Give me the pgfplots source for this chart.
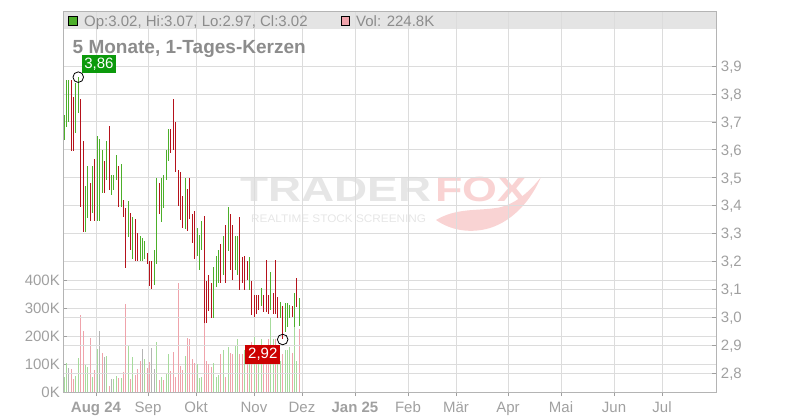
\documentclass[border=0pt]{standalone}
\usepackage{fontspec}
\setmainfont{Liberation Sans}
\usepackage{pgfplots}
\usepackage{pgfplotstable}
\pgfplotsset{compat=1.18}
\definecolor{cup}{HTML}{4CAF2A}
\definecolor{cdn}{HTML}{B5121B}
\definecolor{vup}{HTML}{A6DB9C}
\definecolor{vdn}{HTML}{EFA3AB}
\definecolor{vnt}{HTML}{B4B4B4}
\definecolor{gridc}{HTML}{DCDCDC}
\definecolor{axc}{HTML}{B4B4B4}
\definecolor{txt}{HTML}{A0A0A0}
\definecolor{htxt}{HTML}{8C8C8C}
\definecolor{bandc}{HTML}{E4E4E4}
\definecolor{boxg}{HTML}{0C9A0C}
\definecolor{boxr}{HTML}{CC0000}
\definecolor{wmg}{HTML}{E6E6E6}
\definecolor{wmp}{HTML}{F9D3D3}

% c: 1 = up (green), 2 = down (red)
\pgfplotstableread{
i lo hi c
0 3.635 3.724 1
1 3.683 3.850 1
2 3.700 3.850 1
3 3.597 3.850 2
4 3.597 3.790 2
5 3.660 3.840 1
6 3.730 3.860 1
7 3.396 3.780 2
8 3.306 3.630 2
9 3.306 3.470 1
10 3.356 3.540 1
11 3.344 3.480 2
12 3.372 3.540 1
13 3.344 3.567 2
14 3.344 3.650 1
15 3.344 3.637 1
16 3.446 3.600 1
17 3.446 3.560 2
18 3.490 3.630 1
19 3.456 3.686 2
20 3.437 3.510 1
21 3.456 3.510 1
22 3.490 3.580 1
23 3.396 3.540 2
24 3.396 3.550 1
25 3.358 3.420 2
26 3.175 3.390 2
27 3.288 3.416 1
28 3.240 3.372 2
29 3.207 3.360 1
30 3.200 3.350 2
31 3.200 3.300 2
32 3.200 3.290 1
33 3.200 3.284 1
34 3.207 3.272 1
35 3.190 3.230 2
36 3.111 3.200 2
37 3.101 3.200 2
38 3.117 3.242 1
39 3.189 3.500 1
40 3.368 3.480 2
41 3.340 3.500 1
42 3.392 3.508 1
43 3.490 3.600 1
44 3.559 3.673 1
45 3.589 3.673 2
46 3.598 3.782 2
47 3.520 3.700 2
48 3.398 3.529 2
49 3.347 3.520 2
50 3.320 3.433 2
51 3.316 3.500 1
52 3.308 3.460 2
53 3.350 3.500 2
54 3.264 3.371 2
55 3.207 3.382 2
56 3.218 3.320 1
57 3.168 3.293 1
58 3.240 3.344 1
59 2.978 3.362 2
60 2.978 3.131 2
61 3.023 3.150 2
62 2.996 3.123 2
63 2.996 3.180 1
64 3.109 3.219 1
65 3.123 3.240 1
66 3.123 3.262 2
67 3.150 3.290 1
68 3.123 3.330 2
69 3.238 3.396 1
70 3.169 3.370 2
71 3.133 3.330 2
72 3.169 3.290 1
73 3.150 3.290 1
74 3.097 3.360 2
75 3.121 3.217 2
76 3.097 3.219 2
77 3.133 3.201 2
78 3.097 3.217 1
79 3.007 3.130 2
80 2.999 3.079 2
81 3.013 3.079 2
82 3.025 3.079 2
83 3.040 3.106 1
84 3.019 3.079 2
85 3.019 3.205 2
86 3.013 3.079 2
87 3.025 3.163 1
88 3.013 3.085 2
89 3.013 3.205 2
90 2.996 3.071 2
91 2.996 3.055 1
92 2.920 3.040 2
93 2.948 3.050 1
94 2.966 3.052 1
95 2.996 3.043 1
96 3.001 3.040 2
97 2.966 3.085 1
98 3.037 3.139 2
99 2.970 3.070 1
}\candles

% c: 1 = up (green), 2 = down (pink), 3 = unchanged (grey); v in thousands
\pgfplotstableread{
i v c
0 55 1
1 102 1
2 85 3
3 82 2
4 46 2
5 57 1
6 120 1
7 275 2
8 218 2
9 95 1
10 90 1
11 192 2
12 55 1
13 79 2
14 152 1
15 218 3
16 138 2
17 124 3
18 129 1
19 21 2
20 46 3
21 46 1
22 57 1
23 51 2
24 51 1
25 71 2
26 314 2
27 167 1
28 46 2
29 124 1
30 61 2
31 82 2
32 111 2
33 152 3
34 117 1
35 85 2
36 107 2
37 156 3
38 82 3
39 179 1
40 43 2
41 52 1
42 43 2
43 64 1
44 136 1
45 75 2
46 143 2
47 55 2
48 390 2
49 93 2
50 79 2
51 129 1
52 192 2
53 188 2
54 117 2
55 102 2
56 100 1
57 49 1
58 52 1
59 330 2
60 110 2
61 100 2
62 90 2
63 105 1
64 55 1
65 60 1
66 135 2
67 150 1
68 55 2
69 160 1
70 140 2
71 135 2
72 165 1
73 190 1
74 135 2
75 135 2
76 150 1
77 140 2
78 144 1
79 180 2
80 195 1
81 110 2
82 150 1
83 190 1
84 140 2
85 120 2
86 188 2
87 263 1
88 188 1
89 190 2
90 140 1
91 112 1
92 135 2
93 150 1
94 150 1
95 162 1
96 140 2
97 257 1
98 112 1
99 225 2
}\volumes

\begin{document}
\begin{tikzpicture}[x=1pt,y=1pt]
\useasboundingbox (0,0) rectangle (800,420);
% header band
\fill[bandc] (63,391) rectangle (716,409);
% watermark
\node[anchor=base west, inner sep=0, text=wmg, font=\bfseries\fontsize{35}{35}\selectfont, xscale=1.31] at (240,218) {TRADER};
\node[anchor=base west, inner sep=0, text=wmp, font=\bfseries\fontsize{35}{35}\selectfont, xscale=1.28] at (435,218) {FOX};
\node[anchor=base west, inner sep=0, text=wmg, font=\fontsize{11}{11}\selectfont, xscale=1.07] at (251,197) {REALTIME STOCK SCREENING};
\fill[wmp] (436,200) .. controls (450,190) and (470,186) .. (490,192) .. controls (515,200) and (532,222) .. (541,243)
  .. controls (528,226) and (512,214) .. (496,212) .. controls (476,209) and (456,212) .. (436,200) -- cycle;

% volume axis
\begin{axis}[at={(63pt,28pt)}, anchor=south west, scale only axis,
  width=653pt, height=381pt,
  xmin=63, xmax=716, ymin=0, ymax=1360.7,
  axis line style={draw=none},
  tick align=inside, major tick length=4pt,
  tick style={draw=gray!75, line width=0.6pt},
  x tick style={yshift=-4pt},
  xtick={96,148,196,254,302,355,408,456,508,561,614,662},
  xticklabels={\textbf{Aug 24},Sep,Okt,Nov,Dez,\textbf{Jan 25},Feb,Mär,Apr,Mai,Jun,Jul},
  xtick pos=bottom,
  xticklabel style={anchor=base, inner sep=0pt, yshift=-20pt, text=txt, font=\fontsize{15}{15}\selectfont},
  ytick={0,100,200,300,400},
  yticklabels={0K,100K,200K,300K,400K},
  ytick pos=left,
  yticklabel style={anchor=base east, inner sep=0pt, xshift=-3pt, yshift=-5.4pt, text=txt, font=\fontsize{15}{15}\selectfont},
  grid=major, major grid style={draw=gridc, line width=0.8pt},
  clip=true]
\addplot[ycomb, draw=vup, line width=1pt, mark=none] table[x expr=64+2.377*\thisrow{i}, y expr={ifthenelse(\thisrow{c}==1,\thisrow{v},0)}] {\volumes};
\addplot[ycomb, draw=vdn, line width=1pt, mark=none] table[x expr=64+2.377*\thisrow{i}, y expr={ifthenelse(\thisrow{c}==2,\thisrow{v},0)}] {\volumes};
\addplot[ycomb, draw=vnt, line width=1pt, mark=none] table[x expr=64+2.377*\thisrow{i}, y expr={ifthenelse(\thisrow{c}==3,\thisrow{v},0)}] {\volumes};
\end{axis}

% price axis
\begin{axis}[at={(63pt,28pt)}, anchor=south west, scale only axis,
  width=653pt, height=381pt,
  xmin=63, xmax=716, ymin=2.7319, ymax=4.0971,
  axis line style={draw=none},
  xtick=\empty,
  tick align=inside, major tick length=4pt,
  tick style={draw=gray!75, line width=0.6pt},
  ytick={2.8,2.9,3.0,3.1,3.2,3.3,3.4,3.5,3.6,3.7,3.8,3.9},
  ytick pos=right,
  yticklabel pos=right,
  /pgf/number format/.cd, fixed, fixed zerofill, precision=1, use comma, assume math mode=true,
  /pgfplots/.cd,
  yticklabel style={anchor=base west, inner sep=0pt, xshift=4.7pt, yshift=-5.4pt, text=txt, font=\fontsize{15}{15}\selectfont},
  ymajorgrids, major grid style={draw=gridc, line width=0.8pt},
  clip=true]
\addplot[draw=none, mark=none,
  error bars/.cd, y dir=both, y explicit, error mark=none,
  error bar style={draw=cup, line width=1pt}]
  table[x expr=64+2.377*\thisrow{i},
        y expr={ifthenelse(\thisrow{c}==1,(\thisrow{hi}+\thisrow{lo})/2,0)},
        y error expr={ifthenelse(\thisrow{c}==1,(\thisrow{hi}-\thisrow{lo})/2,0)}] {\candles};
\addplot[draw=none, mark=none,
  error bars/.cd, y dir=both, y explicit, error mark=none,
  error bar style={draw=cdn, line width=1pt}]
  table[x expr=64+2.377*\thisrow{i},
        y expr={ifthenelse(\thisrow{c}==2,(\thisrow{hi}+\thisrow{lo})/2,0)},
        y error expr={ifthenelse(\thisrow{c}==2,(\thisrow{hi}-\thisrow{lo})/2,0)}] {\candles};
\addplot[only marks, mark=o, mark size=5.3pt, mark options={draw=black, line width=0.8pt}] coordinates {(78.26,3.86) (282.68,2.92)};
\node[anchor=south west, fill=boxg, text=white, inner sep=0pt, minimum width=34pt, minimum height=17.5pt, font=\fontsize{15}{15}\selectfont] at (axis cs:78.26,3.86) [xshift=3.4pt, yshift=4pt] {3,86};
\node[anchor=north east, fill=boxr, text=white, inner sep=0pt, minimum width=34.7pt, minimum height=19pt, font=\fontsize{15}{15}\selectfont] at (axis cs:282.68,2.92) [xshift=-2.3pt, yshift=-5pt] {2,92};
\end{axis}

% frame
\draw[axc, line width=0.8pt] (63,28) rectangle (716,409);
% header content
\draw[black, line width=0.6pt, fill=cup] (68.5,394.5) rectangle (77,403.5);
\node[anchor=base west, inner sep=0, text=htxt, font=\fontsize{15}{15}\selectfont] at (84,393.3) {Op:3.02, Hi:3.07, Lo:2.97, Cl:3.02};
\draw[black, line width=0.6pt, fill=vdn] (341,394.5) rectangle (349.5,403.5);
\node[anchor=base west, inner sep=0, text=htxt, font=\fontsize{15}{15}\selectfont] at (356,393.3) {Vol: 224.8K};
% title
\node[anchor=base west, inner sep=0, text=htxt, font=\bfseries\fontsize{19}{19}\selectfont] at (72.5,366) {5 Monate, 1-Tages-Kerzen};
\end{tikzpicture}
\end{document}
